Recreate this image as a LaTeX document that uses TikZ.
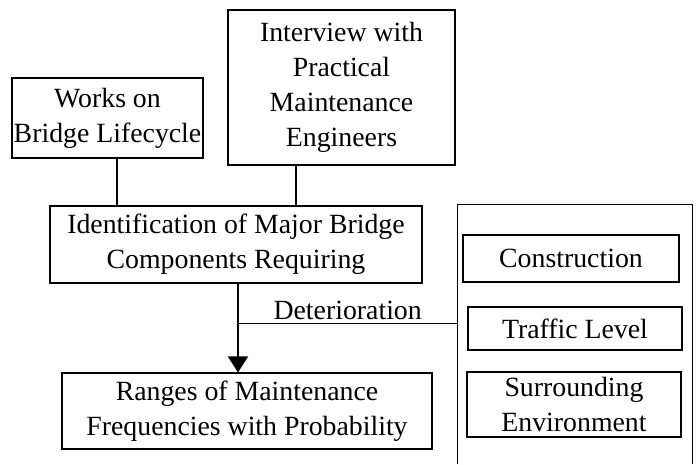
\documentclass[tikz,border=0pt]{standalone}
\usepackage{fontspec}
\setmainfont{Liberation Serif}
\usetikzlibrary{arrows.meta}

\begin{document}
\begin{tikzpicture}[x=1pt,y=-1pt,
  box/.style={draw,line width=1.1pt,align=center,inner sep=0pt,
    font=\fontsize{27.8}{35}\selectfont},
  link/.style={line width=1.4pt}]
  \useasboundingbox (0,0) rectangle (700,464);
  % sources
  \node (works) [box,minimum width=191pt,minimum height=80pt] at (107.5,118) {Works on\\Bridge Lifecycle};
  \node (interview) [box,minimum width=227pt,minimum height=155pt] at (341.5,87.5) {Interview with\\Practical\\Maintenance\\Engineers};
  \node (ident) [box,minimum width=372pt,minimum height=77pt] at (236,244.5) {Identification of Major Bridge\\Components Requiring};
  \node (ranges) [box,minimum width=370pt,minimum height=76pt] at (247,411) {Ranges of Maintenance\\Frequencies with Probability};
  % factors
  \node (factors) [minimum width=235pt,minimum height=259pt,inner sep=0pt] at (575,334.5) {};
  \draw[line width=1.1pt] (factors.south west) -- (factors.north west) -- (factors.north east) -- (factors.south east);
  \node (constr) [box,minimum width=216pt,minimum height=47pt] at (571,258.5) {Construction};
  \node (traffic) [box,minimum width=214pt,minimum height=43pt] at (575,328.5) {Traffic Level};
  \node (surr) [box,minimum width=214pt,minimum height=65pt] at (574,404.5) {Surrounding\\Environment};
  % connectors
  \draw[link] ([xshift=9.5pt]works.south) -- ([xshift=9.5pt]works.south |- ident.north);
  \draw[link] ([xshift=-45.5pt]interview.south) -- ([xshift=-45.5pt]interview.south |- ident.north);
  \draw[link,-{Triangle[width=20pt,length=16pt]}] ([xshift=2pt]ident.south) -- ([xshift=2pt]ident.south |- ranges.north);
  \coordinate (det) at (238,323);
  \draw[line width=1pt] (det) -- (det -| factors.west)
    node[midway,above,inner sep=3pt,font=\fontsize{27.8}{35}\selectfont] {Deterioration};
\end{tikzpicture}
\end{document}
